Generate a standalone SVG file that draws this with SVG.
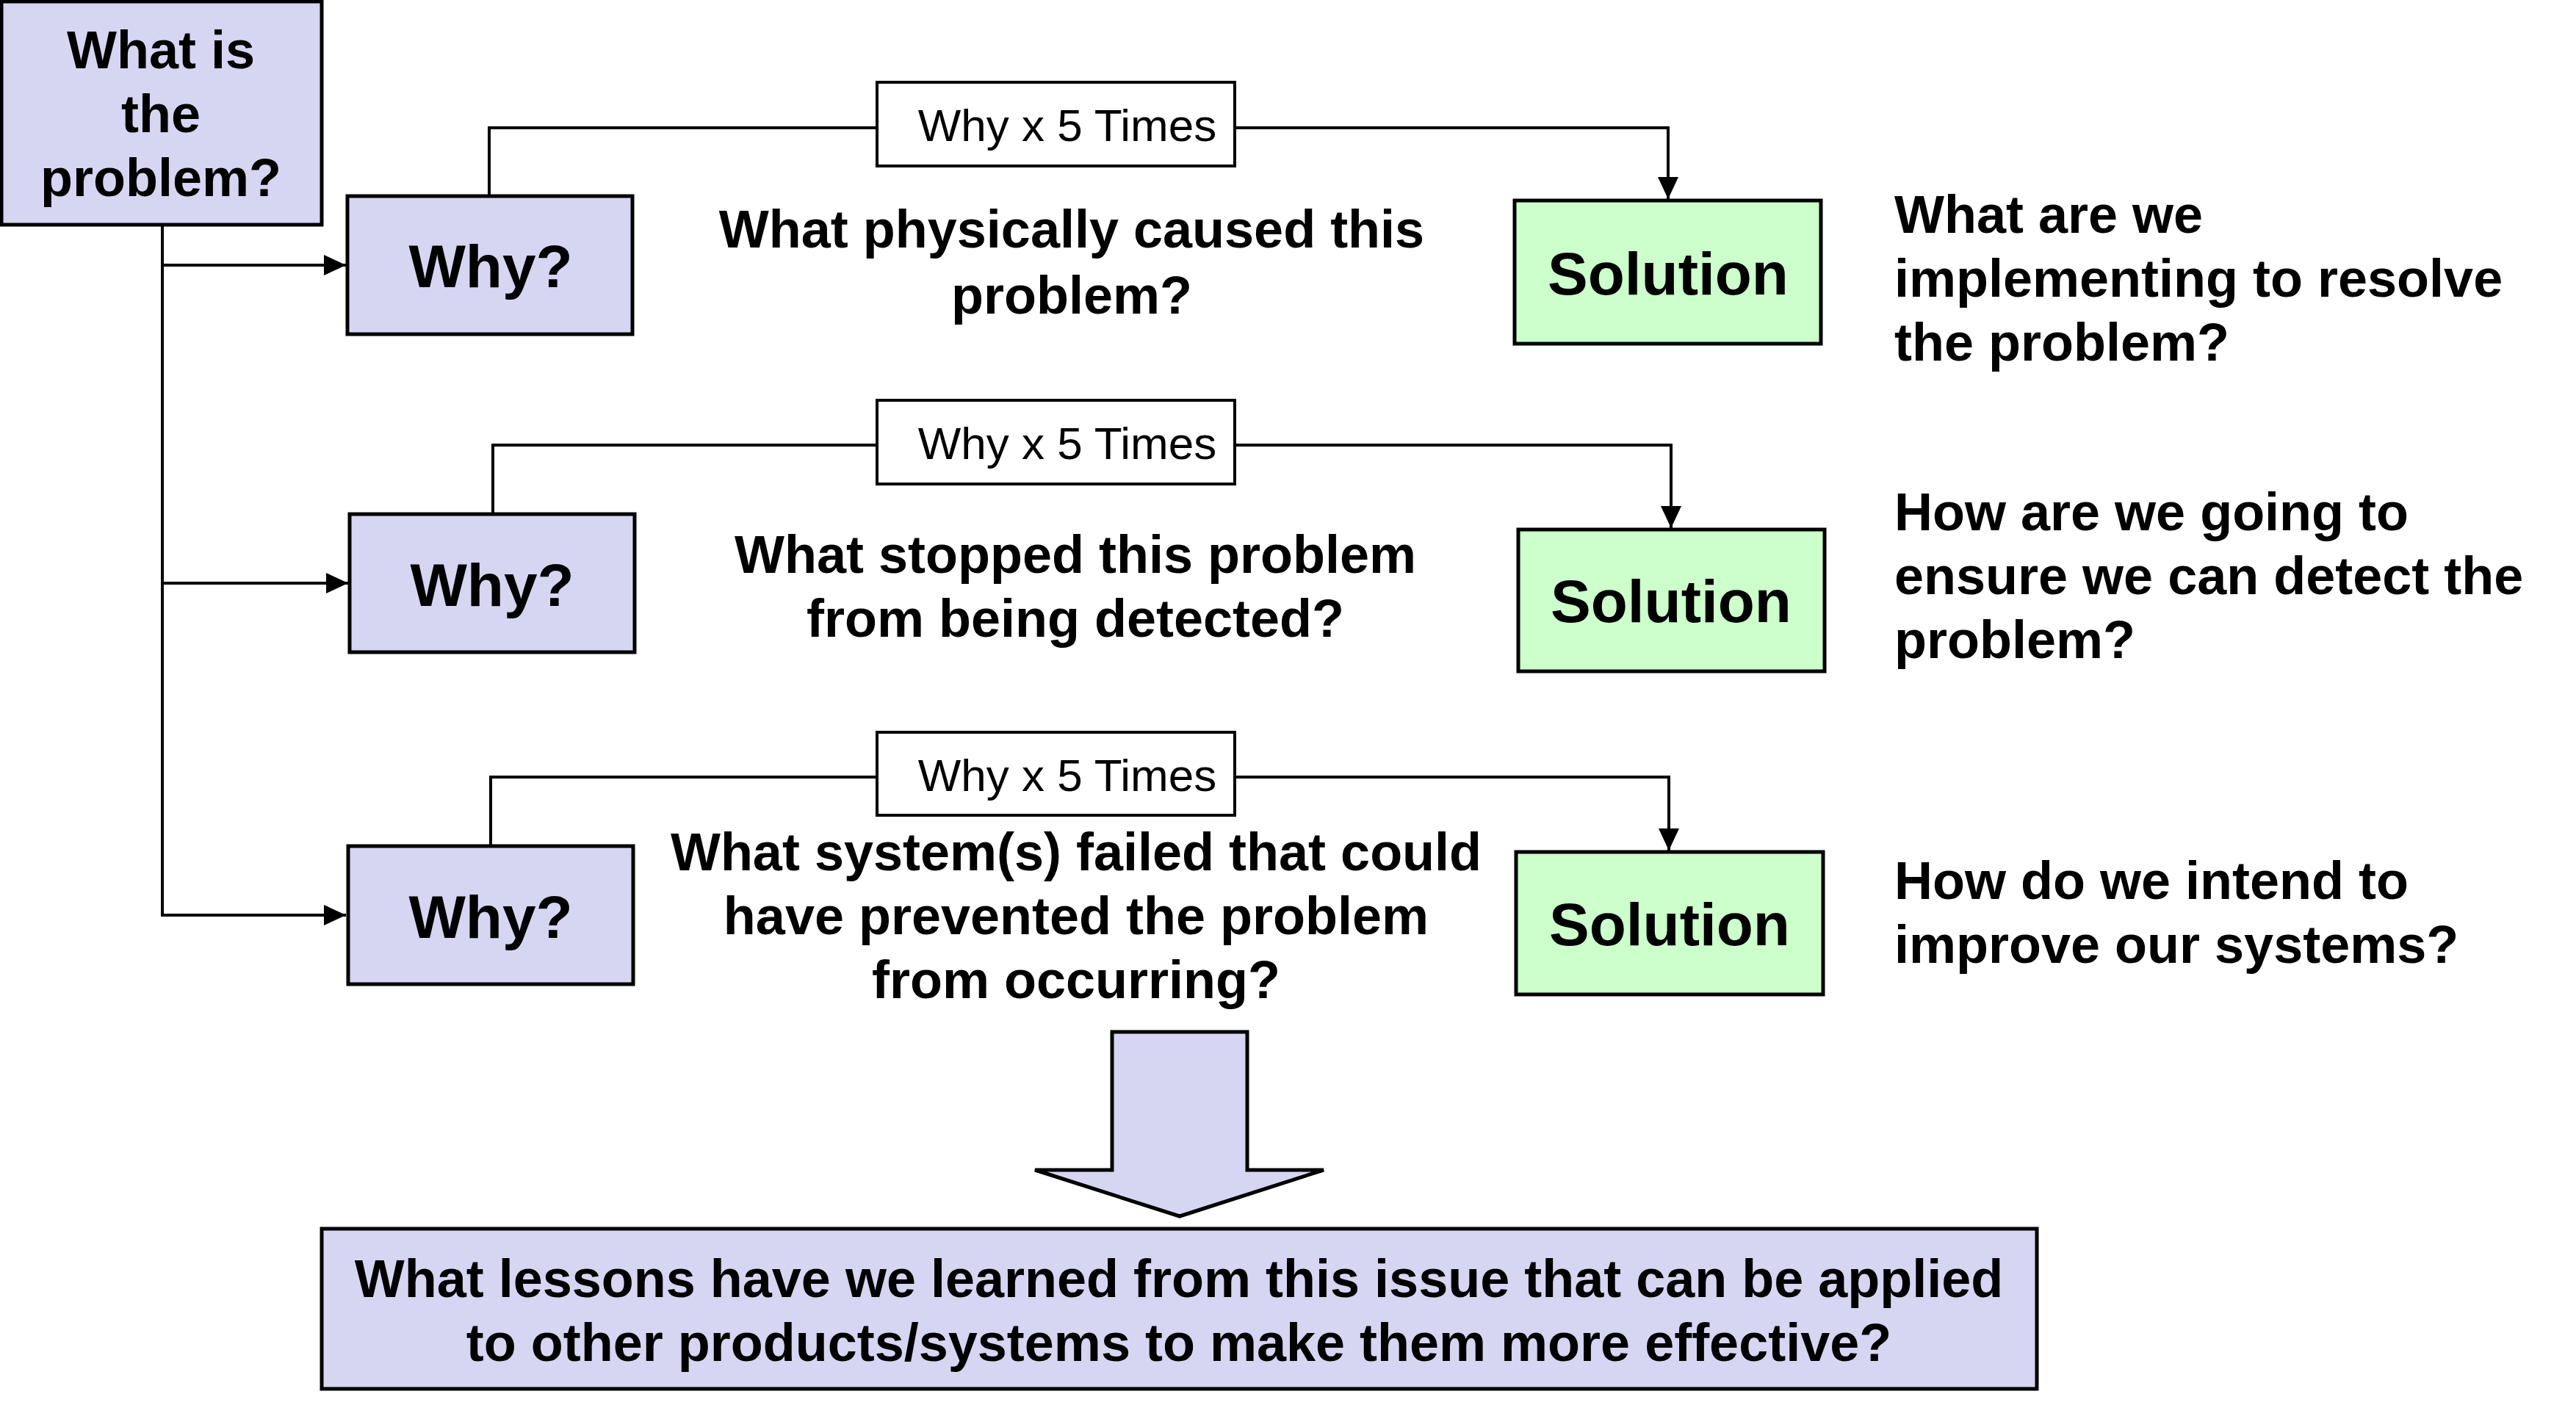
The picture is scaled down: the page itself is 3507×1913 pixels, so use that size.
<svg xmlns="http://www.w3.org/2000/svg" width="3507" height="1913" viewBox="0 0 3507 1913">
<style>
.lav{fill:#D6D6F3;stroke:#000;stroke-width:5}
.grn{fill:#CCFFCC;stroke:#000;stroke-width:5}
.wht{fill:#FFFFFF;stroke:#000;stroke-width:4}
.ln{fill:none;stroke:#000;stroke-width:4}
.b{font-family:"Liberation Sans",Arial,sans-serif;font-weight:bold;font-size:72px;fill:#000}
.big{font-family:"Liberation Sans",Arial,sans-serif;font-weight:bold;font-size:82px;fill:#000}
.r{font-family:"Liberation Sans",Arial,sans-serif;font-size:62px;fill:#000}
.m{text-anchor:middle}
</style>
<defs>
<marker id="ah" markerUnits="userSpaceOnUse" markerWidth="32" markerHeight="30" refX="30" refY="14" orient="auto">
<path d="M0,0 L30,14 L0,28 z" fill="#000"/>
</marker>
</defs>
<rect width="3507" height="1913" fill="#fff"/>
<g id="connectors">
<path class="ln" d="M221,307 V1246 H471" marker-end="url(#ah)"/>
<path class="ln" d="M221,361 H471" marker-end="url(#ah)"/>
<path class="ln" d="M221,794 H474" marker-end="url(#ah)"/>
<path class="ln" d="M666,267 V174 H2271 V271" marker-end="url(#ah)"/>
<path class="ln" d="M671,700 V606 H2275 V719" marker-end="url(#ah)"/>
<path class="ln" d="M668,1152 V1058 H2272 V1158" marker-end="url(#ah)"/>
</g>
<g id="problem">
<rect class="lav" x="2" y="2" width="436" height="304"/>
<text class="b m" x="219" y="93">What is</text>
<text class="b m" x="219" y="180">the</text>
<text class="b m" x="219" y="267">problem?</text>
</g>
<g id="why1">
<rect class="lav" x="473" y="267" width="388" height="188"/>
<text class="big m" x="668" y="391">Why?</text>
</g>
<g id="why2">
<rect class="lav" x="476" y="700" width="388" height="188"/>
<text class="big m" x="670" y="825">Why?</text>
</g>
<g id="why3">
<rect class="lav" x="474" y="1152" width="388" height="188"/>
<text class="big m" x="668" y="1277">Why?</text>
</g>
<g id="why5x1">
<rect class="wht" x="1194" y="112" width="487" height="114"/>
<text class="r m" x="1453" y="192">Why x 5 Times</text>
</g>
<g id="why5x2">
<rect class="wht" x="1194" y="545" width="487" height="114"/>
<text class="r m" x="1453" y="625">Why x 5 Times</text>
</g>
<g id="why5x3">
<rect class="wht" x="1194" y="997" width="487" height="113"/>
<text class="r m" x="1453" y="1077">Why x 5 Times</text>
</g>
<g id="q1">
<text class="b m" x="1459" y="337">What physically caused this</text>
<text class="b m" x="1459" y="427">problem?</text>
</g>
<g id="q2">
<text class="b m" x="1464" y="780">What stopped this problem</text>
<text class="b m" x="1464" y="867">from being detected?</text>
</g>
<g id="q3">
<text class="b m" x="1465" y="1185">What system(s) failed that could</text>
<text class="b m" x="1465" y="1272">have prevented the problem</text>
<text class="b m" x="1465" y="1359">from occurring?</text>
</g>
<g id="solution1">
<rect class="grn" x="2062" y="273" width="417" height="195"/>
<text class="big m" x="2271" y="401">Solution</text>
</g>
<g id="solution2">
<rect class="grn" x="2067" y="721" width="417" height="193"/>
<text class="big m" x="2275" y="847">Solution</text>
</g>
<g id="solution3">
<rect class="grn" x="2064" y="1160" width="418" height="194"/>
<text class="big m" x="2273" y="1287">Solution</text>
</g>
<g id="a1">
<text class="b" x="2579" y="317">What are we</text>
<text class="b" x="2579" y="404">implementing to resolve</text>
<text class="b" x="2579" y="491">the problem?</text>
</g>
<g id="a2">
<text class="b" x="2579" y="722">How are we going to</text>
<text class="b" x="2579" y="809">ensure we can detect the</text>
<text class="b" x="2579" y="896">problem?</text>
</g>
<g id="a3">
<text class="b" x="2579" y="1224">How do we intend to</text>
<text class="b" x="2579" y="1311">improve our systems?</text>
</g>
<g id="blockarrow">
<polygon class="lav" points="1514,1405 1698,1405 1698,1593 1802,1593 1606,1656 1409,1593 1514,1593"/>
</g>
<g id="lessons">
<rect class="lav" x="438" y="1673" width="2335" height="218"/>
<text class="b m" x="1605" y="1766">What lessons have we learned from this issue that can be applied</text>
<text class="b m" x="1605" y="1853">to other products/systems to make them more effective?</text>
</g>
</svg>
